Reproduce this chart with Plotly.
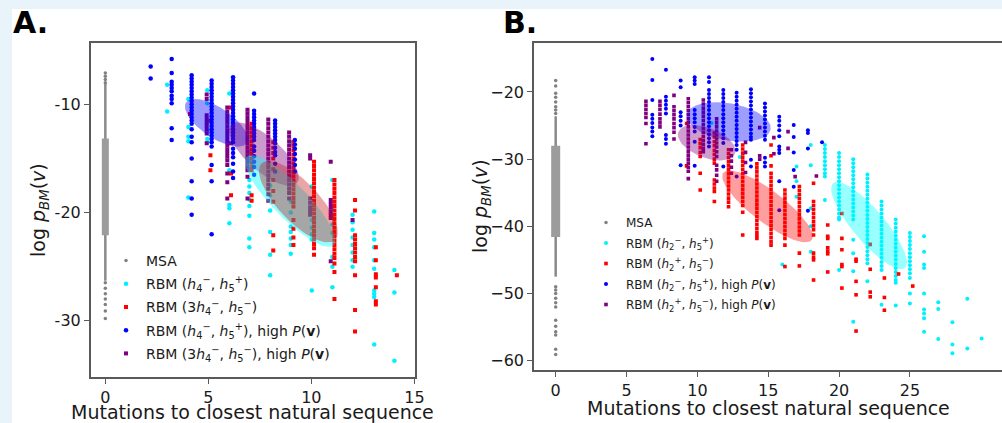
import numpy as np
import plotly.graph_objects as go

W, H = 1002, 423

# ---------------- panel A data (x = mutations, list of log p values) ----------------
a_msa_dots = [-7.1, -7.4, -7.7, -8.0, -26.5, -27.0, -27.5, -28.0, -28.5, -29.1, -29.8]
a_msa_span = [-8.0, -26.3]
a_msa_core = [-13.15, -22.1]

a_cyan_cols = [
    (3.0, [-8.2, -10.65]),
    (4.03, [-9.5, -12.1, -13.0, -13.4, -18.6]),
    (4.95, [-8.7, -9.9, -11.6, -12.4, -13.2, -13.5]),
    (6.02, [-9.0, -16.1, -19.3, -19.6, -21.0]),
    (6.99, [-14.4, -15.2, -16.0, -17.0, -17.6, -18.2, -18.8, -19.4, -20.3, -22.4, -23.2]),
    (8.0, [-17.5, -18.4, -19.8, -21.8, -23.9, -25.8]),
    (9.0, [-13.6, -19.0, -20.0, -21.3, -21.8, -22.4, -23.0, -23.8]),
    (10.02, [-17.6, -20.7, -21.4, -22.0, -22.5, -27.2]),
    (11.02, [-17.0, -19.5, -20.3, -21.1, -21.9, -24.1, -25.0, -26.9]),
    (12.0, [-20.2, -20.9, -21.6, -22.3, -23.0, -23.7, -24.4, -25.0]),
    (13.05, [-19.9, -21.9, -22.5, -23.2, -24.4, -25.2, -27.2, -27.5, -27.8, -32.2]),
    (14.03, [-25.3, -27.4, -33.7]),
]

a_red_cols = [
    (4.11, [-10.9]),
    (5.1, [-11.5, -14.7, -16.1]),
    (6.1, [-10.3, -13.6, -16.4, -18.4]),
    (7.1, [-11.8, -12.2, -12.6, -13.0, -13.4, -13.8, -14.2, -14.6, -15.0, -15.4, -15.8, -16.1,
           -18.4, -18.9]),
    (8.15, [-13.5, -14.0, -14.5, -15.0, -16.0, -17.0, -18.0, -19.0, -22.1, -23.5]),
    (9.13, [-13.45, -13.85, -14.25, -14.65, -15.05, -15.45, -15.85, -16.25, -16.65, -17.05,
            -17.45, -17.85, -18.25, -18.65, -19.05, -19.45, -20.7, -21.5, -22.3, -23.0]),
    (10.13, [-15.3, -15.7, -16.1, -16.5, -16.9, -17.3, -17.7, -18.1, -18.5, -18.9, -19.3,
             -19.7, -20.1, -20.5, -20.9, -21.3, -21.7, -22.1, -22.5, -22.9, -23.3, -23.9]),
    (11.12, [-17.0, -17.4, -17.8, -18.2, -18.6, -19.0, -19.4, -19.8, -20.2, -20.6, -21.0,
             -21.4, -21.8, -22.2, -22.6, -23.0, -23.4, -23.8, -24.2, -24.7, -25.5, -28.0]),
    (12.12, [-18.85, -19.8, -22.1, -22.5, -22.9, -23.3, -23.7, -24.1, -24.5, -25.8, -29.0, -31.0]),
    (13.13, [-23.2, -24.4, -25.7, -26.0, -26.9, -28.2, -28.5]),
    (14.15, [-25.8]),
]

a_blue_cols = [
    (2.2, [-6.5, -7.6]),
    (3.22, [-5.8, -7.1, -7.9, -8.2, -8.5, -8.8, -9.2, -9.5, -9.9, -12.2, -13.3]),
    (4.19, [-7.3, -7.6, -7.9, -8.2, -8.5, -8.8, -9.1, -9.4, -9.7, -10.0, -10.3, -10.6, -10.9,
            -11.2, -11.5, -11.8, -12.3, -13.0, -13.5, -15.0, -17.1, -18.7, -20.2]),
    (5.16, [-7.8, -8.1, -8.4, -8.7, -9.0, -9.3, -9.6, -9.9, -10.2, -10.5, -10.8, -11.1, -11.4,
            -11.7, -12.0, -12.3, -12.6, -12.9, -13.2, -13.5, -13.9, -15.6, -17.1, -22.0]),
    (6.2, [-7.5, -7.8, -8.1, -8.4, -8.7, -9.0, -9.3, -9.6, -9.9, -10.2, -10.5, -10.8, -11.1,
           -11.4, -11.7, -12.0, -12.3, -12.6, -12.9, -13.2, -13.5, -14.1, -14.5, -14.9, -15.5,
           -16.2, -16.8]),
    (7.22, [-9.0, -10.6, -10.9, -11.2, -11.5, -11.8, -12.1, -12.4, -12.7, -13.0, -13.3, -13.9,
            -14.3, -14.8, -15.3, -15.8, -16.5]),
    (8.24, [-11.5, -11.8, -12.1, -12.4, -12.7, -13.0, -13.3, -13.6, -14.0, -14.4, -14.7, -15.5, -16.2]),
    (9.2, [-13.3, -13.7, -14.1, -14.6, -15.1, -15.6, -16.2]),
]

a_purple_cols = [
    (4.92, [-9.1, -9.5, -11.0, -11.35, -11.7, -12.0, -12.35, -12.7, -13.6]),
    (5.92, [-10.3, -10.65, -11.0, -11.35, -11.7, -12.05, -12.4, -12.75, -13.1, -13.45, -13.8,
            -14.15, -14.5, -14.85, -15.2, -15.6, -16.4, -17.2, -18.7]),
    (6.9, [-10.5, -10.85, -11.2, -11.55, -11.9, -12.25, -12.6, -12.95, -13.3, -13.65, -14.0,
           -14.35, -14.7, -15.05, -15.4, -15.75, -16.1, -16.7, -18.7]),
    (7.91, [-11.4, -11.8, -12.2, -12.6, -13.0, -13.4, -13.8, -14.2, -14.6, -15.0, -15.4, -15.8,
            -16.2, -16.6, -17.0, -17.4, -17.8, -18.3, -18.9]),
    (8.92, [-12.6, -13.0, -13.4, -13.8, -14.2, -14.6, -15.0, -15.4, -15.8, -16.2, -16.6, -17.0,
            -17.4, -17.8, -18.2, -18.7]),
    (9.94, [-14.7, -15.0, -18.7, -19.1, -19.5, -19.85, -20.2]),
    (10.94, [-15.3, -18.85, -19.2, -19.55, -19.9, -20.2, -20.5, -24.5]),
    (12.0, [-20.7]),
]

# ellipses: centre, half major vector, half minor vector (data units)
a_ell_blue = [(5.39, -11.70), (1.47, -1.88), (-0.41, -1.16)]
a_ell_purple = [(7.70, -14.6), (1.60, -2.68), (-0.54, -1.18)]
a_ell_cyan = [(8.97, -18.94), (2.10, -4.09), (-0.59, -1.10)]
a_ell_red = [(9.37, -19.0), (1.78, -3.54), (-0.70, -1.28)]

# ---------------- panel B data ----------------
b_msa_dots = [-18.3, -19.1, -20.2, -20.8, -21.5, -22.2, -22.7, -23.2, -49.0, -49.5, -50.0,
              -50.7, -51.4, -52.0, -54.0, -54.9, -55.7, -56.2, -58.3, -59.1]
b_msa_span = [-23.6, -47.5]
b_msa_core = [-28.0, -41.6]

b_cyan_cols = [
    (11.0, [-24.6]),
    (13.0, [-29.7]),
    (16.0, [-45.7]),
    (17.0, [-31.1, -33.3, -35.6]),
    (18.0, [-27.9, -30.9, -37.3, -40.0, -43.8]),
    (19.0, [-27.9, -28.5, -29.1, -29.7, -30.3, -30.9, -31.5, -32.1, -32.6, -36.1]),
    (20.0, [-29.1, -29.7, -30.3, -30.9, -31.5, -32.1, -32.7, -33.3, -33.9, -34.5, -35.1, -35.7,
            -36.3, -36.9, -37.5, -38.1, -38.7, -39.0, -46.5]),
    (21.0, [-30.0, -30.6, -31.2, -31.8, -32.4, -33.0, -33.6, -34.2, -34.8, -35.4, -36.0, -36.6,
            -37.2, -37.8, -38.4, -39.0, -42.0, -44.0, -46.7, -54.2]),
    (22.0, [-32.3, -32.9, -33.5, -34.1, -34.7, -35.3, -35.9, -36.5, -37.1, -37.7, -38.3, -38.9,
            -39.5, -40.1, -40.7, -41.3, -41.9, -42.5, -43.1, -43.7, -44.3, -44.9, -45.5, -48.2]),
    (23.0, [-36.3, -36.9, -37.5, -38.1, -38.7, -39.3, -39.9, -40.5, -41.1, -41.7, -42.3, -42.9,
            -43.5, -44.1, -44.7, -45.3, -45.9, -46.5, -51.7]),
    (24.0, [-39.0, -39.6, -40.2, -40.8, -41.4, -42.0, -42.6, -43.2, -43.8, -44.4, -45.0, -45.6,
            -46.2, -46.8, -47.4, -48.0, -48.4, -51.8]),
    (25.0, [-41.0, -41.6, -42.2, -42.8, -43.4, -44.0, -44.6, -45.2, -45.8, -46.4, -47.0, -47.7,
            -50.0, -51.5]),
    (26.0, [-41.5, -43.8, -45.7, -46.2, -50.0, -52.4, -53.0, -53.7, -55.7]),
    (27.0, [-51.3, -52.3, -56.8]),
    (28.0, [-54.3, -57.6, -58.9]),
    (29.05, [-50.8, -58.2]),
    (30.06, [-56.7]),
]

b_red_cols = [
    (9.24, [-24.7, -31.0]),
    (10.2, [-27.1, -27.7, -28.3, -29.0, -29.6, -32.1, -34.6]),
    (11.2, [-26.1, -26.7, -27.4, -28.0, -28.7, -29.3, -30.0, -30.6, -33.1, -33.7, -34.3, -34.8, -36.3]),
    (12.2, [-28.6, -29.2, -29.8, -30.4, -31.0, -31.6, -32.2, -32.8, -33.4, -34.0, -34.6, -35.2,
            -35.8, -36.4, -37.1]),
    (13.2, [-27.9, -28.5, -29.1, -29.7, -30.3, -30.9, -31.5, -32.1, -32.7, -33.3, -33.9, -34.5,
            -35.1, -35.7, -36.3, -36.9, -37.9, -41.3]),
    (14.2, [-30.7, -31.3, -31.9, -32.5, -33.1, -33.7, -34.3, -34.9, -35.5, -36.1, -36.7, -37.3,
            -37.9, -38.5, -39.1, -39.7, -40.3, -40.9, -41.4, -41.8]),
    (15.2, [-27.9, -29.5, -31.0, -32.1, -32.7, -33.3, -33.9, -34.5, -35.1, -35.7, -36.3, -36.9,
            -37.5, -38.1, -38.7, -39.3, -39.9, -40.5, -41.1, -41.7, -42.3, -42.8]),
    (16.18, [-34.6, -35.2, -35.8, -36.4, -37.0, -37.6, -38.2, -38.8, -39.4, -40.0, -40.6, -41.2,
             -41.8, -42.8, -46.0]),
    (17.2, [-34.1, -34.7, -35.3, -35.9, -36.5, -37.1, -37.7, -38.3, -38.9, -39.5, -40.1, -40.7,
            -41.3, -44.0, -45.9]),
    (18.2, [-33.6, -36.3, -36.9, -37.5, -38.1, -38.7, -39.3, -39.9, -40.5, -41.3, -44.0, -44.6,
            -45.0, -48.0]),
    (19.2, [-39.8, -41.5, -41.8, -43.2, -43.7, -44.1, -46.8]),
    (20.2, [-38.1, -41.8, -43.5, -45.7, -46.0, -49.2]),
    (21.2, [-44.9, -45.2, -48.2, -50.2, -55.6]),
    (22.2, [-42.7, -46.4, -49.8, -50.5]),
    (23.2, [-47.7, -50.6, -52.5]),
    (24.2, [-47.1]),
    (25.2, [-48.9]),
]

b_blue_cols = [
    (6.82, [-15.1, -18.2, -21.2, -23.4, -24.0, -24.6, -25.3, -25.9, -26.6]),
    (7.78, [-16.7, -20.7, -21.3, -21.9, -22.5, -23.2, -26.4, -27.0, -27.7]),
    (8.82, [-18.3, -19.3, -23.0, -23.6, -24.3, -25.0, -30.9]),
    (9.81, [-17.8, -18.3, -18.8, -22.7, -23.3, -23.9, -24.5, -25.2, -25.9, -27.4, -31.0]),
    (10.82, [-17.8, -18.5, -19.7, -20.3, -20.9, -21.5, -22.1, -22.7, -23.3, -23.9, -24.5, -25.1,
             -25.7, -26.3, -26.9, -27.5, -28.1]),
    (11.83, [-19.7, -20.3, -20.9, -21.5, -22.1, -22.7, -23.3, -23.9, -24.5, -25.1, -25.7, -26.3,
             -26.9, -27.6, -31.1]),
    (12.77, [-20.1, -20.7, -21.3, -21.9, -22.5, -23.1, -23.7, -24.3, -24.9, -25.5, -26.1, -26.7,
             -27.3, -27.9, -28.6, -32.6]),
    (13.78, [-19.6, -20.2, -20.8, -21.4, -22.0, -22.6, -23.2, -23.8, -24.4, -25.0, -25.6, -26.2,
             -26.7, -27.1, -30.1, -31.1]),
    (14.77, [-21.7, -22.3, -22.9, -23.5, -24.1, -24.7, -25.3, -25.9, -26.5, -27.1, -29.8, -30.5, -31.1]),
    (15.78, [-23.7, -24.3, -25.0, -25.7, -26.6, -28.1, -28.6, -29.1, -33.3, -37.6]),
    (16.8, [-24.9, -26.7, -29.0, -31.6, -34.1]),
    (17.8, [-25.7, -26.1, -28.4, -37.7]),
    (18.8, [-27.5]),
]

b_purple_cols = [
    (6.37, [-21.4, -22.0, -22.6, -23.2, -23.8, -24.7, -27.7]),
    (7.36, [-21.4, -22.0, -22.6, -23.3, -24.0, -24.6, -25.2]),
    (8.35, [-20.5, -22.2, -22.8, -23.4, -24.0, -24.7, -25.3, -26.0, -27.0]),
    (9.36, [-21.0, -21.6, -22.2, -22.8, -23.4, -24.0, -24.6, -25.2, -25.8, -26.4, -27.0, -27.6,
            -28.2, -28.8, -29.4, -30.0, -30.6, -31.2, -31.8, -32.9]),
    (10.42, [-21.2, -21.8, -22.4, -23.0, -23.6, -24.2, -24.8, -25.4, -26.0, -26.6, -27.2, -27.8,
             -28.4, -28.9]),
    (11.36, [-24.0, -24.6, -25.2, -25.8, -26.4, -27.0, -27.6, -28.2, -28.9, -29.6, -30.9, -31.6,
             -32.4, -33.3]),
    (12.4, [-28.6, -29.5, -30.3, -31.2, -32.1]),
    (13.4, [-27.5, -29.0, -30.5, -32.0]),
    (14.4, [-25.3, -29.5, -30.0]),
    (15.4, [-26.8, -29.2]),
    (16.4, [-25.9, -28.4]),
    (16.9, [-32.6]),
    (18.4, [-32.5]),
]

b_ell_blue = [(12.21, -24.46), (2.96, -1.12), (-0.23, -2.71)]
b_ell_purple = [(10.66, -27.56), (2.0, -1.61), (-0.38, -2.08)]
b_ell_red = [(14.95, -37.04), (3.12, -4.99), (-0.68, -1.89)]
b_ell_cyan = [(22.12, -39.9), (2.53, -6.32), (-0.86, -1.53)]

a_x_ticks = [0, 5, 10, 15]
a_y_ticks = [-10, -20, -30]
b_x_ticks = [0, 5, 10, 15, 20, 25]
b_y_ticks = [-20, -30, -40, -50, -60]

lab_a = ["MSA",
         "RBM (<i>h</i><sub>4</sub><sup>−</sup>, <i>h</i><sub>5</sub><sup>+</sup>)",
         "RBM (3<i>h</i><sub>4</sub><sup>−</sup>, <i>h</i><sub>5</sub><sup>−</sup>)",
         "RBM (<i>h</i><sub>4</sub><sup>−</sup>, <i>h</i><sub>5</sub><sup>+</sup>), high <i>P</i>(<b>v</b>)",
         "RBM (3<i>h</i><sub>4</sub><sup>−</sup>, <i>h</i><sub>5</sub><sup>−</sup>), high <i>P</i>(<b>v</b>)"]
lab_b = ["MSA",
         "RBM (<i>h</i><sub>2</sub><sup>−</sup>, <i>h</i><sub>5</sub><sup>+</sup>)",
         "RBM (<i>h</i><sub>2</sub><sup>+</sup>, <i>h</i><sub>5</sub><sup>−</sup>)",
         "RBM (<i>h</i><sub>2</sub><sup>−</sup>, <i>h</i><sub>5</sub><sup>+</sup>), high <i>P</i>(<b>v</b>)",
         "RBM (<i>h</i><sub>2</sub><sup>+</sup>, <i>h</i><sub>5</sub><sup>−</sup>), high <i>P</i>(<b>v</b>)"]

fig = go.Figure()


def add_points(cols, name, color, symbol, size, xa, ya, leg):
    xs = [x for x, yy in cols for _ in yy]
    ys = [y for _, yy in cols for y in yy]
    fig.add_trace(go.Scatter(x=xs, y=ys, mode="markers", name=name,
                             marker=dict(color=color, symbol=symbol, size=size, line_width=0),
                             xaxis=xa, yaxis=ya, legend=leg, legendgroup=leg + name))


def add_msa(dots, span, core, width, xa, ya, leg):
    fig.add_trace(go.Scatter(x=[0, 0], y=span, mode="lines", line=dict(color="#8a8a8a", width=2.5),
                             xaxis=xa, yaxis=ya, showlegend=False, hoverinfo="skip"))
    fig.add_trace(go.Scatter(x=[0, 0], y=core, mode="lines", line=dict(color="#9c9c9c", width=width),
                             xaxis=xa, yaxis=ya, showlegend=False, hoverinfo="skip"))
    fig.add_trace(go.Scatter(x=[0] * len(dots), y=dots, mode="markers", name="MSA",
                             marker=dict(color="#808080", size=3.5, line_width=0),
                             xaxis=xa, yaxis=ya, legend=leg, legendgroup=leg + "msa"))


def add_ellipse(p, rgba, xa, ya):
    t = np.linspace(0, 2 * np.pi, 90)
    (cx, cy), (ax, ay), (bx, by) = p
    ex = cx + ax * np.cos(t) + bx * np.sin(t)
    ey = cy + ay * np.cos(t) + by * np.sin(t)
    fig.add_trace(go.Scatter(x=ex, y=ey, mode="lines", fill="toself", fillcolor=rgba,
                             line=dict(width=0, color=rgba), xaxis=xa, yaxis=ya,
                             showlegend=False, hoverinfo="skip"))


# panel A
add_msa(a_msa_dots, a_msa_span, a_msa_core, 7, "x", "y", "legend")
add_points(a_cyan_cols, lab_a[1], "#00f0ff", "circle", 4.5, "x", "y", "legend")
add_points(a_red_cols, lab_a[2], "#ff0000", "square", 4, "x", "y", "legend")
add_points(a_blue_cols, lab_a[3], "#0000ff", "circle", 4.5, "x", "y", "legend")
add_points(a_purple_cols, lab_a[4], "#800080", "square", 4, "x", "y", "legend")
add_ellipse(a_ell_blue, "rgba(0,0,255,0.4)", "x", "y")
add_ellipse(a_ell_purple, "rgba(128,0,128,0.4)", "x", "y")
add_ellipse(a_ell_cyan, "rgba(0,255,255,0.42)", "x", "y")
add_ellipse(a_ell_red, "rgba(200,20,20,0.38)", "x", "y")

# panel B
add_msa(b_msa_dots, b_msa_span, b_msa_core, 9, "x2", "y2", "legend2")
add_points(b_cyan_cols, lab_b[1], "#00f0ff", "circle", 4, "x2", "y2", "legend2")
add_points(b_red_cols, lab_b[2], "#ff0000", "square", 3.6, "x2", "y2", "legend2")
add_points(b_blue_cols, lab_b[3], "#0000ff", "circle", 4, "x2", "y2", "legend2")
add_points(b_purple_cols, lab_b[4], "#800080", "square", 3.6, "x2", "y2", "legend2")
add_ellipse(b_ell_blue, "rgba(0,0,255,0.38)", "x2", "y2")
add_ellipse(b_ell_purple, "rgba(128,0,128,0.38)", "x2", "y2")
add_ellipse(b_ell_red, "rgba(255,0,0,0.38)", "x2", "y2")
add_ellipse(b_ell_cyan, "rgba(0,255,255,0.4)", "x2", "y2")

axis_style = dict(showgrid=False, zeroline=False, showline=True, mirror=True,
                  linecolor="#5a5a5a", linewidth=1.5, ticks="outside", ticklen=5,
                  tickwidth=1.2, tickcolor="#5a5a5a", automargin=False,
                  tickfont=dict(size=16, color="#1a1a1a"))

fig.update_layout(
    width=W, height=H, margin=dict(l=0, r=0, t=0, b=0),
    paper_bgcolor="#e8f3fa", plot_bgcolor="white",
    font=dict(family="DejaVu Sans", color="#1a1a1a"),
    xaxis=dict(domain=[90.7 / W, 415 / W], range=[-0.71, 15.03], anchor="y",
               tickvals=a_x_ticks, **axis_style),
    yaxis=dict(domain=[1 - 377 / H, 1 - 43 / H], range=[-35.2, -4.33], anchor="x",
               tickvals=a_y_ticks, ticktext=[str(v) for v in a_y_ticks], **axis_style),
    xaxis2=dict(domain=[534 / W, 1.0], range=[-1.53, 31.5], anchor="y2",
                tickvals=b_x_ticks, **axis_style),
    yaxis2=dict(domain=[1 - 370 / H, 1 - 43.3 / H], range=[-61.4, -12.75], anchor="x2",
                tickvals=b_y_ticks, **axis_style),
    legend=dict(x=106 / W, y=1 - 245 / H, xanchor="left", yanchor="top",
                bgcolor="rgba(0,0,0,0)", font=dict(size=14, color="#1a1a1a"),
                tracegroupgap=2, itemwidth=30),
    legend2=dict(x=586 / W, y=1 - 208 / H, xanchor="left", yanchor="top",
                 bgcolor="rgba(0,0,0,0)", font=dict(size=12, color="#1a1a1a"),
                 tracegroupgap=1.5, itemwidth=30),
    shapes=[dict(type="rect", xref="paper", yref="paper", x0=12 / W, x1=1, y0=0, y1=1 - 9 / H,
                 fillcolor="white", line=dict(width=0), layer="below")],
    showlegend=True,
)

ytitle = "log <i>p</i><sub><i>BM</i></sub>(<i>v</i>)"
xtitle = "Mutations to closest natural sequence"
ann = [
    dict(text="<b>A.</b>", x=11 / W, y=1 - 22.5 / H, xanchor="left", yanchor="middle",
         font=dict(size=30, color="black")),
    dict(text="<b>B.</b>", x=501 / W, y=1 - 22.5 / H, xanchor="left", yanchor="middle",
         font=dict(size=30, color="black")),
    dict(text=xtitle, x=252.5 / W, y=1 - 412 / H, xanchor="center", yanchor="middle",
         font=dict(size=19), borderpad=0),
    dict(text=xtitle, x=768 / W, y=1 - 407.5 / H, xanchor="center", yanchor="middle",
         font=dict(size=19), borderpad=0),
    dict(text=ytitle, x=39 / W, y=1 - 210 / H, xanchor="center", yanchor="middle",
         textangle=-90, font=dict(size=19)),
    dict(text=ytitle, x=481 / W, y=1 - 206 / H, xanchor="center", yanchor="middle",
         textangle=-90, font=dict(size=19)),
]
for a in ann:
    a.update(xref="paper", yref="paper", showarrow=False)
fig.update_layout(annotations=ann)

# the page body has a default margin; drop it so the figure sits at the window origin
fig.write_html("out.html", config={"displayModeBar": False},
               post_script="document.body.style.margin='0';document.body.style.overflow='hidden';")
